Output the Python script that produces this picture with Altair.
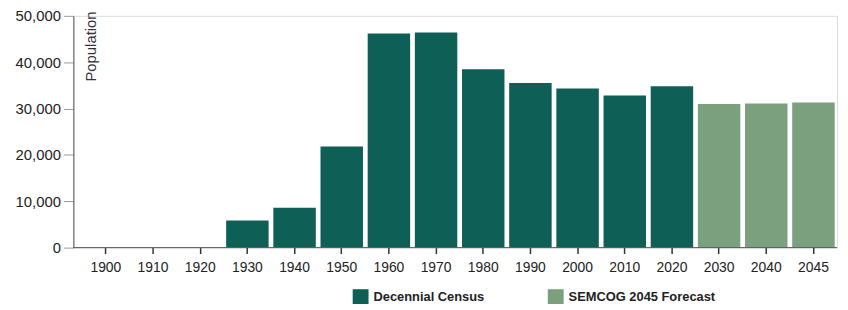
import altair as alt
import pandas as pd

years = ["1900", "1910", "1920", "1930", "1940", "1950", "1960", "1970",
         "1980", "1990", "2000", "2010", "2020", "2030", "2040", "2045"]
population = [0, 0, 0, 5850, 8600, 21800, 46200, 46400,
              38500, 35500, 34300, 32800, 34800, 31000, 31100, 31300]
series = ["Decennial Census"] * 13 + ["SEMCOG 2045 Forecast"] * 3
series_names = ["Decennial Census", "SEMCOG 2045 Forecast"]
series_colors = ["#0e5f56", "#7aa07d"]
y_ticks = [0, 10000, 20000, 30000, 40000, 50000]

df = pd.DataFrame({"Year": years, "Population": population, "Series": series})

W, H = 771, 234
FONT = "Liberation Sans"

bars = alt.Chart(df).mark_bar().encode(
    x=alt.X("Year:N", sort=years,
            scale=alt.Scale(range=[9, W], paddingInner=0.1, paddingOuter=0.05),
            axis=alt.Axis(title=None, labelAngle=0, labelFontSize=14, labelColor="#222",
                          labelFont=FONT, tickSize=6, tickColor="#333", tickWidth=1.5,
                          labelPadding=7, domain=False)),
    y=alt.Y("Population:Q",
            scale=alt.Scale(domain=[0, 50000], nice=False),
            axis=alt.Axis(values=y_ticks, format=",d", grid=False, labelFontSize=15,
                          labelColor="#222", labelFont=FONT, tickSize=10, tickColor="#999",
                          labelPadding=3, domainColor="#555",
                          title="Population", titleAngle=-90, titleX=10, titleY=-5,
                          titleAlign="right", titleBaseline="top", titleFontSize=15,
                          titleFontWeight="normal", titleColor="#333", titleFont=FONT)),
    color=alt.Color("Series:N", scale=alt.Scale(domain=series_names, range=series_colors),
                    title=None,
                    legend=alt.Legend(orient="none", legendX=282, legendY=276,
                                      direction="horizontal", symbolType="square",
                                      symbolSize=256, symbolStrokeWidth=0,
                                      labelFontSize=13, labelFontWeight="bold",
                                      labelFont=FONT, labelColor="#222", labelOffset=5,
                                      columnPadding=64, padding=0)),
)

baseline = alt.Chart(alt.Data(values=[{}])).mark_rule(color="#555", strokeWidth=1).encode(
    x=alt.value(0), x2=alt.value(W), y=alt.value(H)
)

chart = alt.layer(bars, baseline).properties(
    width=W, height=H,
    autosize=alt.AutoSizeParams(type="none"),
    padding={"left": 66, "top": 6.5, "right": 3, "bottom": 55},
).configure_view(stroke=None).configure(font=FONT)

chart.save("out.html", embed_options={"renderer": "svg", "actions": False})
